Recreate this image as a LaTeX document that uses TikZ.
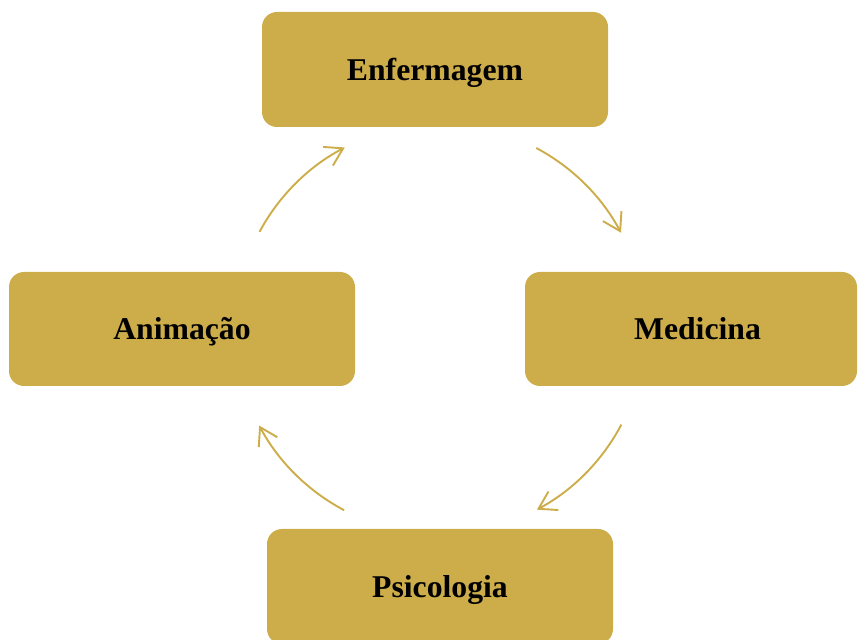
\documentclass[tikz,border=0pt]{standalone}
\usepackage{fontspec}
\setmainfont{Liberation Serif}
\usetikzlibrary{arrows.meta}
\definecolor{gold}{HTML}{CDAC4A}
\tikzset{
  box/.style={fill=gold, draw=none, rounded corners=15pt, minimum width=346pt, minimum height=115pt,
    inner sep=0pt, text height=22pt, text depth=0pt, font=\fontsize{31.7}{36}\selectfont\bfseries, text=black},
  cyc/.style={draw=gold, line width=1.9pt, -{Straight Barb[length=17pt, width=21pt, line width=1.9pt]}}
}
\begin{document}
\begin{tikzpicture}[x=1pt, y=1pt]
\useasboundingbox (0,0) rectangle (858,639);
\clip (0,0) rectangle (858,639);
\node[box] (enf) at (435,569.5) {Enfermagem};
\node[box, minimum height=114pt] (ani) at (182,310) {Animação};
\node[box, minimum width=332pt, minimum height=114pt] (med) at (691,310) {\hspace*{13pt}Medicina};
\node[box] (psi) at (440,52.5) {Psicologia};
\coordinate (c) at (440,310);
\draw[cyc] (c) ++(151.7:205) arc[start angle=151.7, end angle=117.7, radius=205];
\draw[cyc] (c) ++(62:205) arc[start angle=62, end angle=28, radius=205];
\draw[cyc] (c) ++(-27.8:205) arc[start angle=-27.8, end angle=-61.8, radius=205];
\draw[cyc] (c) ++(-117.9:205) arc[start angle=-117.9, end angle=-151.9, radius=205];
\end{tikzpicture}
\end{document}
